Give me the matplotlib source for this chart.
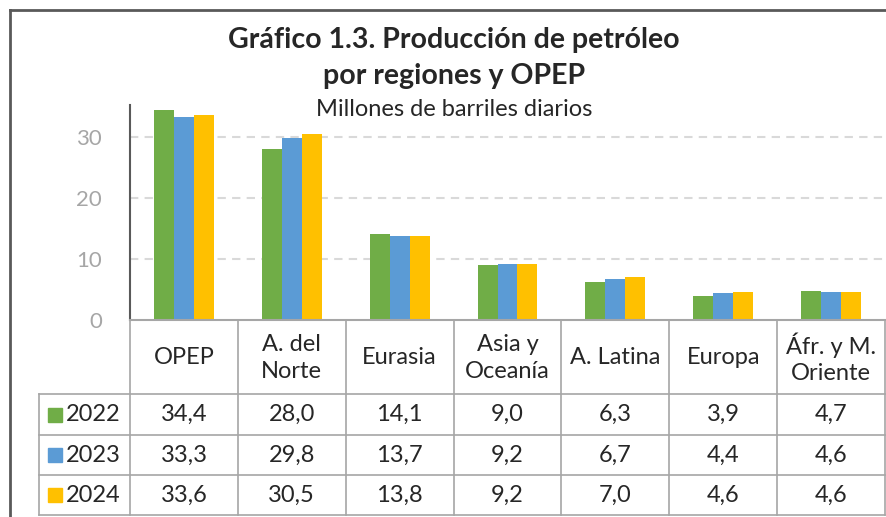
import matplotlib
matplotlib.use("Agg")
import matplotlib.pyplot as plt
from matplotlib.lines import Line2D
from matplotlib.patches import Rectangle
import numpy as np

plt.rcParams['font.family'] = ['Lato', 'DejaVu Sans']

categories = ["OPEP", "A. del\nNorte", "Eurasia", "Asia y\nOceanía", "A. Latina", "Europa", "Áfr. y M.\nOriente"]
years = ["2022", "2023", "2024"]
v2022 = [34.4, 28.0, 14.1, 9.0, 6.3, 3.9, 4.7]
v2023 = [33.3, 29.8, 13.7, 9.2, 6.7, 4.4, 4.6]
v2024 = [33.6, 30.5, 13.8, 9.2, 7.0, 4.6, 4.6]
series = [v2022, v2023, v2024]
colors = ["#70AD47", "#5B9BD5", "#FFC000"]
yticks = [0, 10, 20, 30]

W, H = 887, 517
fig = plt.figure(figsize=(W / 100, H / 100), dpi=100)
fig.patch.set_facecolor("white")

def fx(px):
    return px / W

def fy(py):
    return 1 - py / H

# plot area
x0, x1 = 130, 885
ytop, y0 = 105, 320
ax = fig.add_axes([fx(x0), fy(y0), fx(x1 - x0), (y0 - ytop) / H])
n = len(categories)
ax.set_xlim(-0.5, n - 0.5)
ax.set_ylim(0, 35.25)
x = np.arange(n)
bw = 0.185
for i, (vals, c) in enumerate(zip(series, colors)):
    ax.bar(x + (i - 1) * bw, vals, width=bw, color=c, zorder=3, linewidth=0)
ax.set_yticks(yticks)
ax.set_yticklabels([str(t) for t in yticks], fontsize=16, color="#A6A6A6")
ax.tick_params(axis="y", length=0, pad=20)
ax.set_xticks([])
for t in yticks[1:]:
    ax.axhline(t, color="#D9D9D9", linewidth=1.5, linestyle=(0, (4, 3)), zorder=1)
for s in ["top", "right", "bottom"]:
    ax.spines[s].set_visible(False)
ax.spines["left"].set_color("#595959")
ax.spines["left"].set_linewidth(1.5)

# data table
colw = (x1 - x0) / n
lx = 39
tb = 515
tax = fig.add_axes([fx(lx), fy(tb), fx(x1 - lx), (tb - y0) / H])
tax.set_xlim(-0.5 - (x0 - lx) / colw, n - 0.5)
tax.set_ylim(tb - y0, 0)
tax.axis("off")
lc = "#A6A6A6"
lw = 1.2
hdr = 394 - y0
rows = [394 - y0, 435 - y0, 475 - y0, tb - y0]
xl = -0.5 - (x0 - lx) / colw
# top axis line
tax.plot([-0.5, n - 0.5], [0, 0], color="#A6A6A6", lw=1.5, clip_on=False)
for k in range(n + 1):
    tax.plot([k - 0.5, k - 0.5], [0, tb - y0], color=lc, lw=lw, clip_on=False)
for r in rows:
    tax.plot([xl, n - 0.5], [r, r], color=lc, lw=lw, clip_on=False)
tax.plot([xl, xl], [hdr, tb - y0], color=lc, lw=lw, clip_on=False)

tc = "#262626"
fs = 17
for k, cat in enumerate(categories):
    tax.text(k, hdr / 2 + 1, cat, ha="center", va="center", fontsize=fs,
             color=tc, linespacing=1.3)
for j, (yr, vals, c) in enumerate(zip(years, series, colors)):
    yc = (rows[j] + rows[j + 1]) / 2
    for k, v in enumerate(vals):
        tax.text(k, yc, f"{v:.1f}".replace(".", ","), ha="center", va="center",
                 fontsize=fs, color=tc)
    sq = 14 / colw
    tax.add_patch(Rectangle((xl + 9 / colw, yc - 7), sq, 14, color=c, clip_on=False))
    tax.text(xl + 27 / colw, yc, yr, ha="left", va="center", fontsize=fs, color=tc)

# titles
fig.text(fx(454), fy(40), "Gráfico 1.3. Producción de petróleo", ha="center", va="center",
         fontsize=20.5, fontweight="bold", color="#262626")
fig.text(fx(454), fy(76), "por regiones y OPEP", ha="center", va="center",
         fontsize=20.5, fontweight="bold", color="#262626")
fig.text(fx(454), fy(110), "Millones de barriles diarios", ha="center", va="center",
         fontsize=17, color="#262626")

# outer frame
fig.add_artist(Line2D([fx(10), fx(887)], [fy(10), fy(10)], color="#595959", lw=2))
fig.add_artist(Line2D([fx(10), fx(10)], [fy(10), fy(517)], color="#595959", lw=2))

fig.savefig("out.png", dpi=100, facecolor="white")
